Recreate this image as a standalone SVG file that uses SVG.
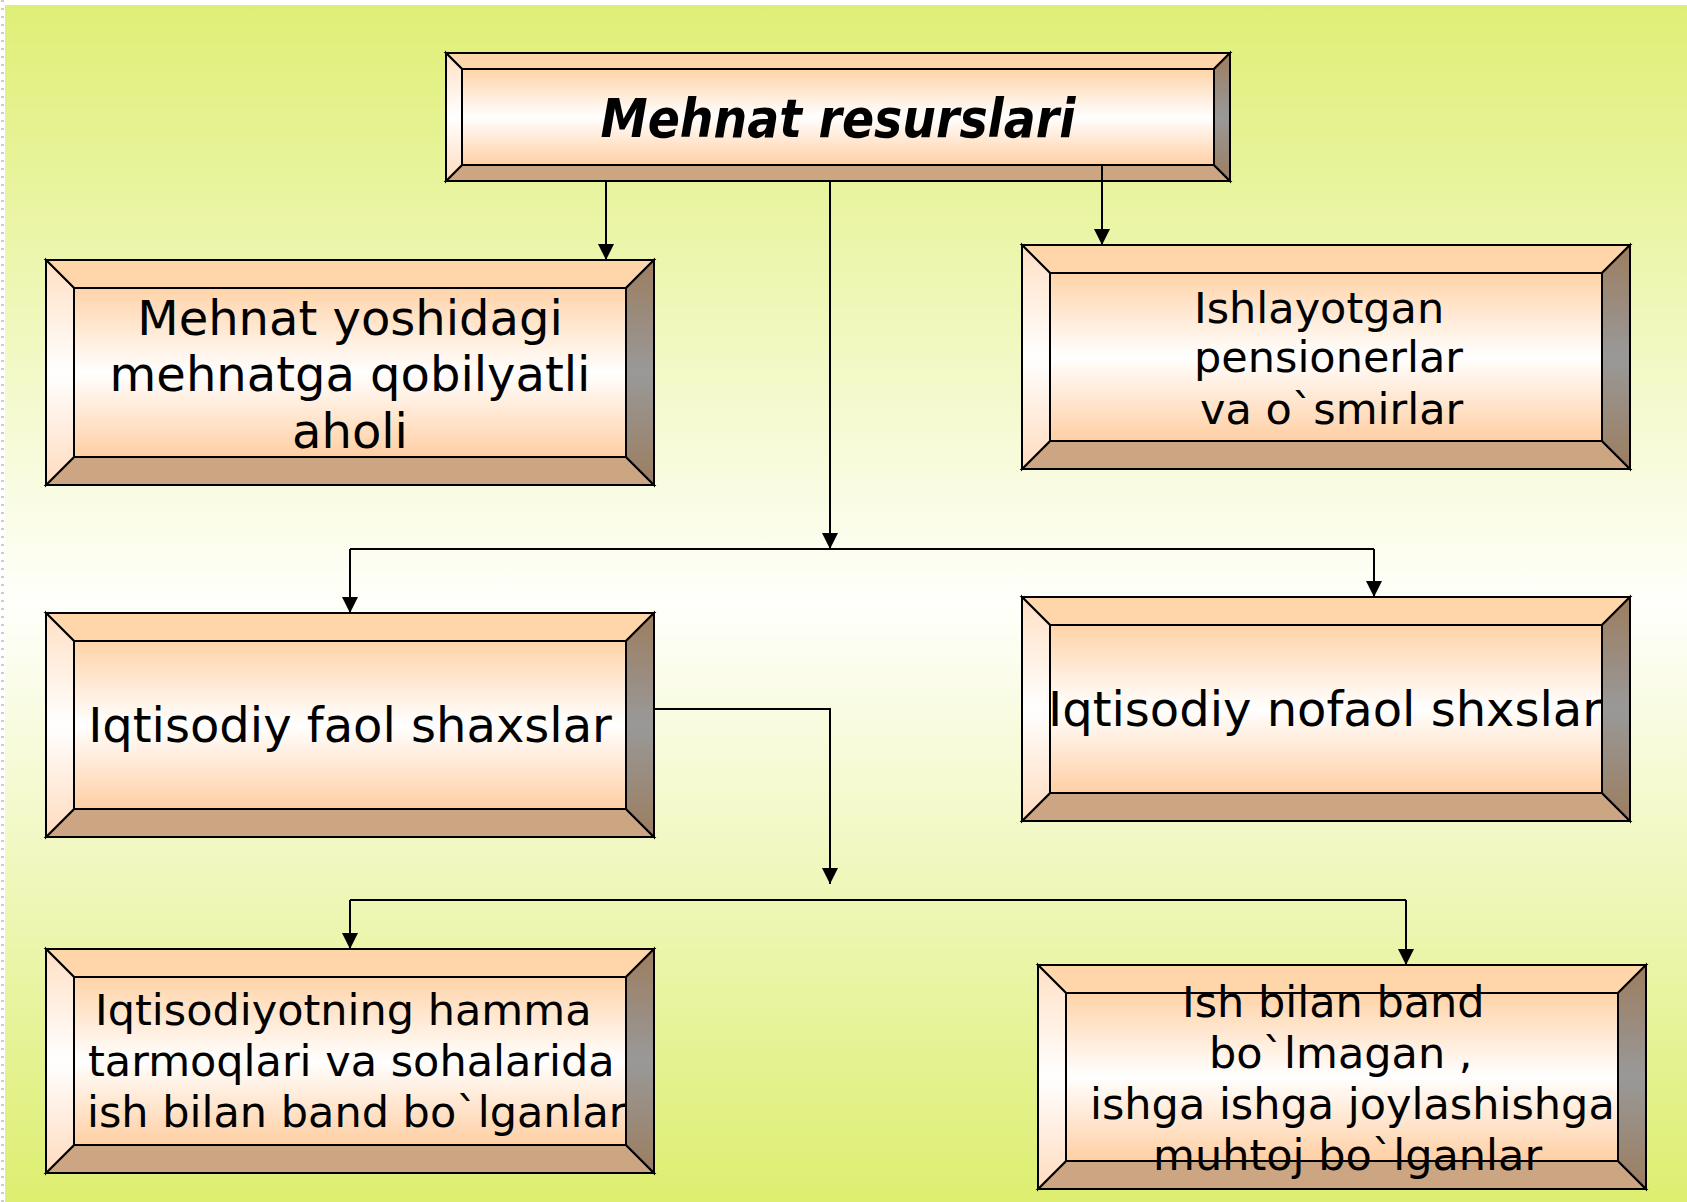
<svg xmlns="http://www.w3.org/2000/svg" width="1687" height="1202" viewBox="0 0 1687 1202">
<style>
.face{stroke:#000;stroke-width:2;stroke-linejoin:miter}
.top{fill:#FFD5AA}
.bot{fill:#CCA682}
.lf{fill:url(#gLeft)}
.rt{fill:url(#gRight)}
.in{fill:url(#gInner)}
.t{font-family:"DejaVu Sans","Liberation Sans",sans-serif;fill:#000}
.c{fill:none;stroke:#000;stroke-width:2}
.a{marker-end:url(#arr)}
</style>
<defs>
<linearGradient id="gBg" x1="0" y1="0" x2="0" y2="1">
<stop offset="0" stop-color="#DFEF75"/>
<stop offset="0.5" stop-color="#FFFFFB"/>
<stop offset="1" stop-color="#DDEE70"/>
</linearGradient>
<linearGradient id="gInner" x1="0" y1="0" x2="0" y2="1">
<stop offset="0" stop-color="#FFD3A8"/>
<stop offset="0.5" stop-color="#FFFFFF"/>
<stop offset="1" stop-color="#FFCFA3"/>
</linearGradient>
<linearGradient id="gLeft" x1="0" y1="0" x2="0" y2="1">
<stop offset="0" stop-color="#FFE0C4"/>
<stop offset="0.5" stop-color="#FFFFFF"/>
<stop offset="1" stop-color="#FFDCBE"/>
</linearGradient>
<linearGradient id="gRight" x1="0" y1="0" x2="0" y2="1">
<stop offset="0" stop-color="#9C7D5F"/>
<stop offset="0.5" stop-color="#999999"/>
<stop offset="1" stop-color="#9C7D5F"/>
</linearGradient>
<marker id="arr" markerUnits="userSpaceOnUse" markerWidth="16" markerHeight="16" viewBox="0 0 16 16" refX="16" refY="8" orient="auto">
<path d="M0 0 L16 8 L0 16 Z" fill="#000"/>
</marker>
</defs>
<rect x="0" y="0" width="1687" height="1202" fill="#FFFFFF"/>
<line x1="2.5" y1="0" x2="2.5" y2="1202" stroke="#CCCCCC" stroke-width="3" stroke-dasharray="2 6"/>
<rect x="5" y="5" width="1682" height="1197" fill="url(#gBg)"/>

<g id="node-mehnat-resurslari">
<path class="face top" d="M446 53 L1230 53 L1214 69 L462 69Z"/>
<path class="face bot" d="M446 181 L1230 181 L1214 165 L462 165Z"/>
<path class="face lf" d="M446 53 L462 69 L462 165 L446 181Z"/>
<path class="face rt" d="M1230 53 L1230 181 L1214 165 L1214 69Z"/>
<rect class="face in" x="462" y="69" width="752" height="96"/>
<text class="t" x="838" y="137" text-anchor="middle" font-size="54" font-weight="bold" font-style="italic" textLength="475" lengthAdjust="spacingAndGlyphs">Mehnat resurslari</text>
</g>

<g id="node-mehnat-yoshidagi">
<path class="face top" d="M46 260 L654 260 L626 288 L74 288Z"/>
<path class="face bot" d="M46 485 L654 485 L626 457 L74 457Z"/>
<path class="face lf" d="M46 260 L74 288 L74 457 L46 485Z"/>
<path class="face rt" d="M654 260 L654 485 L626 457 L626 288Z"/>
<rect class="face in" x="74" y="288" width="552" height="169"/>
<text class="t" font-size="48" text-anchor="middle"><tspan x="350" y="335">Mehnat yoshidagi</tspan><tspan x="350" y="391">mehnatga qobilyatli</tspan><tspan x="350" y="448">aholi</tspan></text>
</g>

<g id="node-ishlayotgan-pensionerlar">
<path class="face top" d="M1022 245 L1630 245 L1602 273 L1050 273Z"/>
<path class="face bot" d="M1022 469 L1630 469 L1602 441 L1050 441Z"/>
<path class="face lf" d="M1022 245 L1050 273 L1050 441 L1022 469Z"/>
<path class="face rt" d="M1630 245 L1630 469 L1602 441 L1602 273Z"/>
<rect class="face in" x="1050" y="273" width="552" height="168"/>
<text class="t" font-size="43"><tspan x="1194" y="323">Ishlayotgan</tspan><tspan x="1194" y="372">pensionerlar</tspan><tspan x="1200" y="424">va o`smirlar</tspan></text>
</g>

<g id="node-iqtisodiy-faol">
<path class="face top" d="M46 613 L654 613 L626 641 L74 641Z"/>
<path class="face bot" d="M46 837 L654 837 L626 809 L74 809Z"/>
<path class="face lf" d="M46 613 L74 641 L74 809 L46 837Z"/>
<path class="face rt" d="M654 613 L654 837 L626 809 L626 641Z"/>
<rect class="face in" x="74" y="641" width="552" height="168"/>
<text class="t" x="350" y="742" font-size="48" text-anchor="middle">Iqtisodiy faol shaxslar</text>
</g>

<g id="node-iqtisodiy-nofaol">
<path class="face top" d="M1022 597 L1630 597 L1602 625 L1050 625Z"/>
<path class="face bot" d="M1022 821 L1630 821 L1602 793 L1050 793Z"/>
<path class="face lf" d="M1022 597 L1050 625 L1050 793 L1022 821Z"/>
<path class="face rt" d="M1630 597 L1630 821 L1602 793 L1602 625Z"/>
<rect class="face in" x="1050" y="625" width="552" height="168"/>
<text class="t" x="1048" y="726" font-size="48">Iqtisodiy nofaol shxslar</text>
</g>

<g id="node-band-boglganlar">
<path class="face top" d="M46 949 L654 949 L626 977 L74 977Z"/>
<path class="face bot" d="M46 1173 L654 1173 L626 1145 L74 1145Z"/>
<path class="face lf" d="M46 949 L74 977 L74 1145 L46 1173Z"/>
<path class="face rt" d="M654 949 L654 1173 L626 1145 L626 977Z"/>
<rect class="face in" x="74" y="977" width="552" height="168"/>
<text class="t" font-size="43"><tspan x="95" y="1025">Iqtisodiyotning hamma</tspan><tspan x="88" y="1076">tarmoqlari va sohalarida</tspan><tspan x="87" y="1127">ish bilan band bo`lganlar</tspan></text>
</g>

<g id="node-band-bolmagan">
<path class="face top" d="M1038 965 L1646 965 L1618 993 L1066 993Z"/>
<path class="face bot" d="M1038 1189 L1646 1189 L1618 1161 L1066 1161Z"/>
<path class="face lf" d="M1038 965 L1066 993 L1066 1161 L1038 1189Z"/>
<path class="face rt" d="M1646 965 L1646 1189 L1618 1161 L1618 993Z"/>
<rect class="face in" x="1066" y="993" width="552" height="168"/>
<text class="t" font-size="43"><tspan x="1182" y="1017">Ish bilan band</tspan><tspan x="1209" y="1068">bo`lmagan ,</tspan><tspan x="1090" y="1119">ishga ishga joylashishga</tspan><tspan x="1153" y="1170">muhtoj bo`lganlar</tspan></text>
</g>

<g id="connectors">
<path class="c a" d="M606 181 V260"/>
<path class="c a" d="M1102 165 V245"/>
<path class="c a" d="M830 181 V549"/>
<path class="c" d="M350 549 H1374"/>
<path class="c a" d="M350 549 V613"/>
<path class="c a" d="M1374 549 V597"/>
<path class="c a" d="M654 709 H830 V884"/>
<path class="c" d="M350 900 H1406"/>
<path class="c a" d="M350 900 V949"/>
<path class="c a" d="M1406 900 V965"/>
</g>
</svg>
